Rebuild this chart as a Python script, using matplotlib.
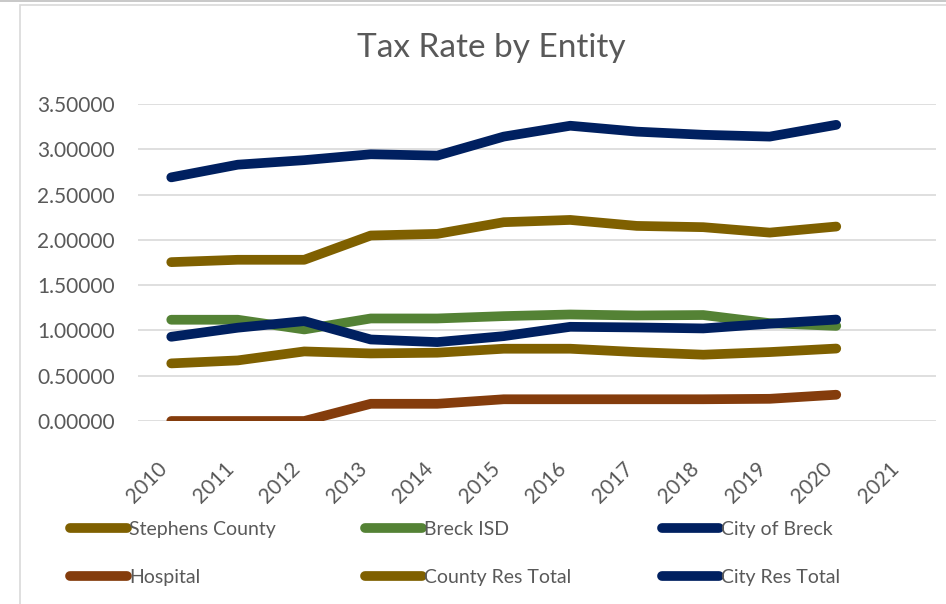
import matplotlib
matplotlib.use("Agg")
import matplotlib.pyplot as plt
from matplotlib.lines import Line2D
from matplotlib.patches import Rectangle
from matplotlib.ticker import FormatStrFormatter

years = ["2010", "2011", "2012", "2013", "2014", "2015", "2016", "2017", "2018", "2019", "2020", "2021"]
stephens_county = [0.636, 0.669, 0.768, 0.746, 0.754, 0.798, 0.798, 0.761, 0.732, 0.761, 0.800]
breck_isd = [1.118, 1.118, 1.011, 1.132, 1.132, 1.158, 1.176, 1.165, 1.170, 1.080, 1.050]
city_of_breck = [0.930, 1.030, 1.103, 0.900, 0.871, 0.937, 1.040, 1.033, 1.022, 1.074, 1.120]
hospital = [0.000, 0.000, 0.000, 0.190, 0.190, 0.240, 0.240, 0.240, 0.240, 0.245, 0.290]
county_res_total = [1.754, 1.780, 1.780, 2.048, 2.066, 2.195, 2.220, 2.154, 2.140, 2.080, 2.147]
city_res_total = [2.690, 2.830, 2.880, 2.945, 2.930, 3.140, 3.260, 3.195, 3.160, 3.140, 3.270]

series = [
    ("Stephens County", stephens_county, "#7F6000"),
    ("Breck ISD", breck_isd, "#548235"),
    ("City of Breck", city_of_breck, "#002060"),
    ("Hospital", hospital, "#843C0C"),
    ("County Res Total", county_res_total, "#7F6000"),
    ("City Res Total", city_res_total, "#002060"),
]

plt.rcParams['font.family'] = ['Lato', 'DejaVu Sans']
TXT = "#595959"

fig = plt.figure(figsize=(9.46, 6.04), dpi=100)
W, H = 946, 604
ax = fig.add_axes([138 / W, 1 - 421 / H, (936 - 138) / W, (421 - 104) / H])

x = list(range(len(years)))
handles = []
for name, vals, col in series:
    (ln,) = ax.plot(x[:len(vals)], vals, color=col, lw=7, solid_capstyle='round',
                    solid_joinstyle='round', label=name, zorder=3)
    handles.append(ln)

ax.set_xlim(-0.5, len(years) - 0.5)
ax.set_ylim(0, 3.5)
ax.set_yticks([0, 0.5, 1.0, 1.5, 2.0, 2.5, 3.0, 3.5])
ax.yaxis.set_major_formatter(FormatStrFormatter('%.5f'))
ax.set_xticks(x)
ax.set_xticklabels(years, rotation=45, ha='right', va='top')
ax.grid(axis='y', color='#D9D9D9', lw=1.2, zorder=0)
for s in ax.spines.values():
    s.set_visible(False)
ax.tick_params(axis='both', length=0, colors=TXT, labelsize=15)
ax.tick_params(axis='y', pad=16.5)
ax.tick_params(axis='x', pad=27)

fig.text(491 / W, 1 - 48 / H, "Tax Rate by Entity", ha='center', va='center',
         fontsize=24, color=TXT)

# chart frame
fig.add_artist(Rectangle((20 / W, -0.1), 1.2, 1 - 5 / H + 0.1, transform=fig.transFigure,
                         fill=False, edgecolor='#D9D9D9', lw=1.2))
fig.add_artist(Line2D([0, 1], [1 - 1 / H, 1 - 1 / H], transform=fig.transFigure,
                      color='#BFBFBF', lw=1.2))

# legend: three columns, two rows
cols_x = [70, 365, 662]
for i, cx in enumerate(cols_x):
    hs = [handles[i], handles[i + 3]]
    leg = fig.legend(hs, [h.get_label() for h in hs], loc='upper left',
                     bbox_to_anchor=(cx / W, 1 - 521 / H), bbox_transform=fig.transFigure,
                     frameon=False, borderpad=0, borderaxespad=0, fontsize=14,
                     handlelength=2.94, handletextpad=0.1, labelspacing=1.57,
                     labelcolor=TXT)

fig.savefig("out.png", dpi=100, facecolor='white')
